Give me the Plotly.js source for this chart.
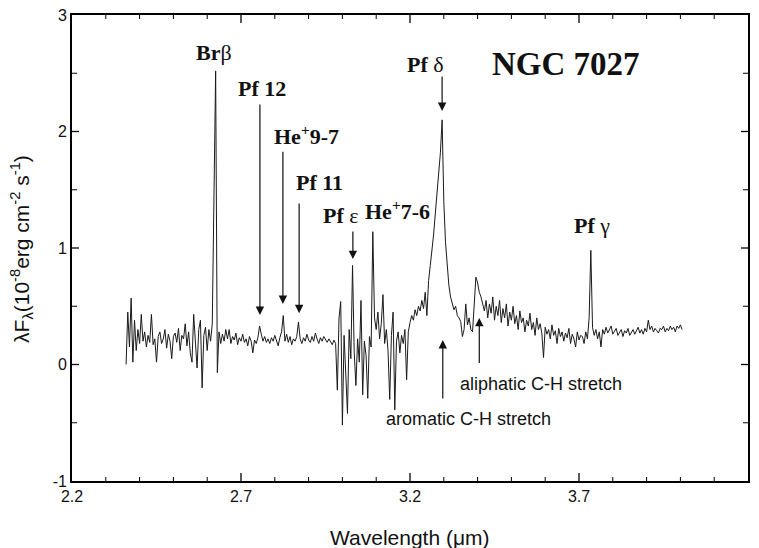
<!DOCTYPE html>
<html><head><meta charset="utf-8">
<script src="https://cdn.plot.ly/plotly-3.0.1.min.js"></script>
<style>html,body{margin:0;padding:0;background:#fff}#chart{width:759px;height:548px}</style>
</head><body><div id="chart"></div>
<script>
const wavelength = [
2.360,2.365,2.370,2.375,2.380,2.385,2.390,2.395,2.400,2.405,
2.410,2.415,2.420,2.425,2.430,2.435,2.440,2.445,2.450,2.455,
2.460,2.465,2.470,2.475,2.480,2.485,2.490,2.495,2.500,2.505,
2.510,2.515,2.520,2.525,2.530,2.535,2.540,2.545,2.550,2.555,
2.560,2.565,2.570,2.575,2.580,2.585,2.590,2.595,2.600,2.605,
2.610,2.615,2.620,2.625,2.630,2.635,2.640,2.645,2.650,2.655,
2.660,2.665,2.670,2.675,2.680,2.685,2.690,2.695,2.700,2.705,
2.710,2.715,2.720,2.725,2.730,2.735,2.740,2.745,2.750,2.755,
2.760,2.765,2.770,2.775,2.780,2.785,2.790,2.795,2.800,2.805,
2.810,2.815,2.820,2.825,2.830,2.835,2.840,2.845,2.850,2.855,
2.860,2.865,2.870,2.875,2.880,2.885,2.890,2.895,2.900,2.905,
2.910,2.915,2.920,2.925,2.930,2.935,2.940,2.945,2.950,2.955,
2.960,2.965,2.970,2.975,2.980,2.985,2.990,2.995,3.000,3.005,
3.010,3.015,3.020,3.025,3.030,3.035,3.040,3.045,3.050,3.055,
3.060,3.065,3.070,3.075,3.080,3.085,3.090,3.095,3.100,3.105,
3.110,3.115,3.120,3.125,3.130,3.135,3.140,3.145,3.150,3.155,
3.160,3.165,3.170,3.175,3.180,3.185,3.190,3.195,3.200,3.205,
3.210,3.215,3.220,3.225,3.230,3.235,3.240,3.245,3.250,3.255,
3.260,3.265,3.270,3.275,3.280,3.285,3.290,3.295,3.300,3.305,
3.310,3.315,3.320,3.325,3.330,3.335,3.340,3.345,3.350,3.355,
3.360,3.365,3.370,3.375,3.380,3.385,3.390,3.395,3.400,3.405,
3.410,3.415,3.420,3.425,3.430,3.435,3.440,3.445,3.450,3.455,
3.460,3.465,3.470,3.475,3.480,3.485,3.490,3.495,3.500,3.505,
3.510,3.515,3.520,3.525,3.530,3.535,3.540,3.545,3.550,3.555,
3.560,3.565,3.570,3.575,3.580,3.585,3.590,3.595,3.600,3.605,
3.610,3.615,3.620,3.625,3.630,3.635,3.640,3.645,3.650,3.655,
3.660,3.665,3.670,3.675,3.680,3.685,3.690,3.695,3.700,3.705,
3.710,3.715,3.720,3.725,3.730,3.735,3.740,3.745,3.750,3.755,
3.760,3.765,3.770,3.775,3.780,3.785,3.790,3.795,3.800,3.805,
3.810,3.815,3.820,3.825,3.830,3.835,3.840,3.845,3.850,3.855,
3.860,3.865,3.870,3.875,3.880,3.885,3.890,3.895,3.900,3.905,
3.910,3.915,3.920,3.925,3.930,3.935,3.940,3.945,3.950,3.955,
3.960,3.965,3.970,3.975,3.980,3.985,3.990,3.995,4.000,4.005
];
const flux = [
0.00,0.45,0.15,0.57,0.02,0.38,0.12,0.30,0.18,0.43,
0.20,0.28,0.15,0.25,0.19,0.43,0.17,0.22,0.02,0.24,
0.28,0.18,0.22,0.30,0.14,0.26,0.20,0.05,0.24,0.27,
0.19,0.31,0.12,0.25,0.22,0.35,0.16,0.28,0.10,0.02,
0.43,0.15,-0.03,0.30,0.38,-0.20,0.25,0.32,0.12,0.30,
0.20,0.35,1.72,2.52,-0.07,0.28,0.18,0.26,0.20,0.30,
0.22,0.30,0.18,0.24,0.21,0.27,0.17,0.23,0.20,0.26,
0.19,0.22,0.16,0.24,0.20,0.10,0.21,0.18,0.23,0.33,
0.26,0.20,0.24,0.19,0.22,0.18,0.23,0.20,0.25,0.21,
0.16,0.23,0.28,0.42,0.20,0.26,0.19,0.24,0.17,0.22,
0.20,0.24,0.365,0.22,0.18,0.23,0.20,0.26,0.21,0.19,
0.24,0.20,0.27,0.22,0.18,0.23,0.20,0.24,0.21,0.19,
0.22,0.20,0.17,0.21,0.18,-0.22,0.40,0.54,-0.52,0.25,
-0.10,-0.42,0.30,0.05,0.85,0.10,-0.18,0.22,0.02,0.55,
-0.26,0.20,0.08,-0.29,0.24,0.15,1.14,0.40,0.30,0.45,
0.22,0.35,0.60,0.18,0.30,0.12,-0.30,0.25,0.45,-0.39,
0.20,0.28,0.10,0.25,0.18,0.30,-0.13,0.28,0.36,0.42,
0.38,0.47,0.42,0.50,0.46,0.55,0.48,0.62,0.42,0.72,
0.85,0.98,1.12,1.30,1.48,1.72,1.82,2.10,1.40,1.05,
0.82,0.68,0.58,0.52,0.47,0.50,0.42,0.40,0.37,0.24,
0.30,0.52,0.34,0.40,0.30,0.28,0.55,0.75,0.70,0.62,
0.58,0.52,0.46,0.55,0.40,0.52,0.44,0.58,0.38,0.50,
0.42,0.55,0.36,0.48,0.40,0.52,0.33,0.45,0.38,0.50,
0.35,0.42,0.30,0.46,0.36,0.40,0.28,0.38,0.33,0.44,
0.30,0.36,0.25,0.40,0.30,0.35,0.27,0.06,0.32,0.26,
0.30,0.22,0.34,0.25,0.29,0.18,0.31,0.24,0.28,0.20,
0.27,0.23,0.31,0.18,0.26,0.22,0.15,0.28,0.21,0.25,
0.24,0.18,0.28,0.22,0.40,0.98,0.32,0.25,0.30,0.22,
0.28,0.15,0.30,0.26,0.32,0.27,0.30,0.33,0.26,0.29,
0.31,0.25,0.28,0.30,0.24,0.29,0.27,0.31,0.25,0.28,
0.30,0.26,0.29,0.32,0.27,0.30,0.26,0.31,0.28,0.38,
0.30,0.33,0.28,0.31,0.29,0.27,0.31,0.30,0.33,0.28,
0.31,0.29,0.33,0.30,0.32,0.28,0.33,0.31,0.34,0.30
];
const xTickVals = [2.2, 2.7, 3.2, 3.7, 4.2];
const xTickText = ['2.2', '2.7', '3.2', '3.7', '4.2'];
const yTickVals = [-1, 0, 1, 2, 3];
const yTickText = ['-1', '0', '1', '2', '3'];
const xMinorTickVals = [2.3, 2.4, 2.5, 2.6, 2.8, 2.9, 3.0, 3.1, 3.3, 3.4, 3.5, 3.6, 3.8, 3.9, 4.0, 4.1];
const yMinorTickVals = [-0.5, 0.5, 1.5, 2.5];

// line identifications: label text, label anchor (x, y)
const lineLabels = ['<b>Br</b>β', '<b>Pf 12</b>', '<b>He<sup>+</sup>9-7</b>', '<b>Pf 11</b>', '<b>Pf</b> ε',
                    '<b>He<sup>+</sup>7-6</b>', '<b>Pf</b> δ', '<b>Pf</b> γ'];
const labelX = [2.620, 2.762, 2.895, 2.931, 2.996, 3.164, 3.247, 3.738];
const labelY = [2.674, 2.373, 1.97, 1.558, 1.283, 1.326, 2.571, 1.197];
// arrows: x, tip y, tail y
const arrowX = [2.756, 2.824, 2.872, 3.031, 3.295, 3.297, 3.405];
const arrowTip = [0.425, 0.52, 0.44, 0.905, 2.176, 0.21, 0.40];
const arrowTail = [2.245, 1.84, 1.395, 1.155, 2.485, -0.305, 0.0];

const serif = 'Liberation Serif, Times New Roman, serif';
const sans = 'Liberation Sans, Arial, Helvetica, sans-serif';

const W = 759, H = 548, M = {l: 72, r: 11, t: 15, b: 67};
const plotW = W - M.l - M.r, plotH = H - M.t - M.b;

const annotations = [];
lineLabels.forEach((t, i) => annotations.push({
  x: labelX[i], y: labelY[i], xref: 'x', yref: 'y', text: t, showarrow: false,
  font: {family: serif, size: 22, color: '#111'}, xanchor: 'center', yanchor: 'middle'
}));
arrowX.forEach((x, i) => annotations.push({
  x: x, y: arrowTip[i], ax: x, ay: arrowTail[i], xref: 'x', yref: 'y', axref: 'x', ayref: 'y',
  text: '', showarrow: true, arrowhead: 2, arrowsize: 1.4, arrowwidth: 1.2, arrowcolor: '#111', standoff: 0
}));
annotations.push({x: 3.662, y: 2.58, xref: 'x', yref: 'y', text: '<b>NGC 7027</b>', showarrow: false,
  font: {family: serif, size: 33, color: '#111'}, xanchor: 'center', yanchor: 'middle'});
annotations.push({x: 3.588, y: -0.167, xref: 'x', yref: 'y', text: 'aliphatic C-H stretch', showarrow: false,
  font: {family: sans, size: 18, color: '#111'}, xanchor: 'center', yanchor: 'middle'});
annotations.push({x: 3.372, y: -0.468, xref: 'x', yref: 'y', text: 'aromatic C-H stretch', showarrow: false,
  font: {family: sans, size: 18, color: '#111'}, xanchor: 'center', yanchor: 'middle'});
annotations.push({x: -0.074, y: 0.498, xref: 'paper', yref: 'paper', textangle: -90,
  text: 'λF<sub>λ</sub>(10<sup>-8</sup>erg cm<sup>-2</sup> s<sup>-1</sup>)', showarrow: false,
  font: {family: sans, size: 21, color: '#111'}, xanchor: 'center', yanchor: 'middle'});
annotations.push({x: 0.5, y: -0.122, xref: 'paper', yref: 'paper',
  text: 'Wavelength (μm)', showarrow: false,
  font: {family: sans, size: 21, color: '#111'}, xanchor: 'center', yanchor: 'middle'});

// inside tick marks on all four sides, placed on the axes' own scales
const shapes = [];
function xTick(v, len, w) {
  const f = len / plotH;
  shapes.push({type: 'line', xref: 'x', yref: 'paper', x0: v, x1: v, y0: 0, y1: f, line: {color: 'black', width: w}});
  shapes.push({type: 'line', xref: 'x', yref: 'paper', x0: v, x1: v, y0: 1, y1: 1 - f, line: {color: 'black', width: w}});
}
function yTick(v, len, w) {
  const f = len / plotW;
  shapes.push({type: 'line', xref: 'paper', yref: 'y', x0: 0, x1: f, y0: v, y1: v, line: {color: 'black', width: w}});
  shapes.push({type: 'line', xref: 'paper', yref: 'y', x0: 1, x1: 1 - f, y0: v, y1: v, line: {color: 'black', width: w}});
}
xTickVals.slice(1, -1).forEach(v => xTick(v, 8, 1.3));
xMinorTickVals.forEach(v => xTick(v, 4, 1));
yTickVals.slice(1, -1).forEach(v => yTick(v, 7, 1.3));
yMinorTickVals.forEach(v => yTick(v, 5, 1));

const trace = {
  x: wavelength, y: flux, type: 'scatter', mode: 'lines',
  line: {color: '#1a1a1a', width: 1}
};

const layout = {
  width: W, height: H,
  margin: M,
  showlegend: false,
  xaxis: {
    range: [2.2, 4.2], tickmode: 'array', tickvals: xTickVals, ticktext: xTickText,
    showgrid: false, zeroline: false, showline: true, linecolor: 'black', linewidth: 1.6, mirror: true,
    ticks: '', tickfont: {family: sans, size: 16, color: '#111'}
  },
  yaxis: {
    range: [-1, 3], tickmode: 'array', tickvals: yTickVals, ticktext: yTickText,
    showgrid: false, zeroline: false, showline: true, linecolor: 'black', linewidth: 1.6, mirror: true,
    ticks: '', tickfont: {family: sans, size: 16, color: '#111'}
  },
  shapes: shapes,
  annotations: annotations
};

Plotly.newPlot('chart', [trace], layout, {displayModeBar: false});
</script>
</body></html>
